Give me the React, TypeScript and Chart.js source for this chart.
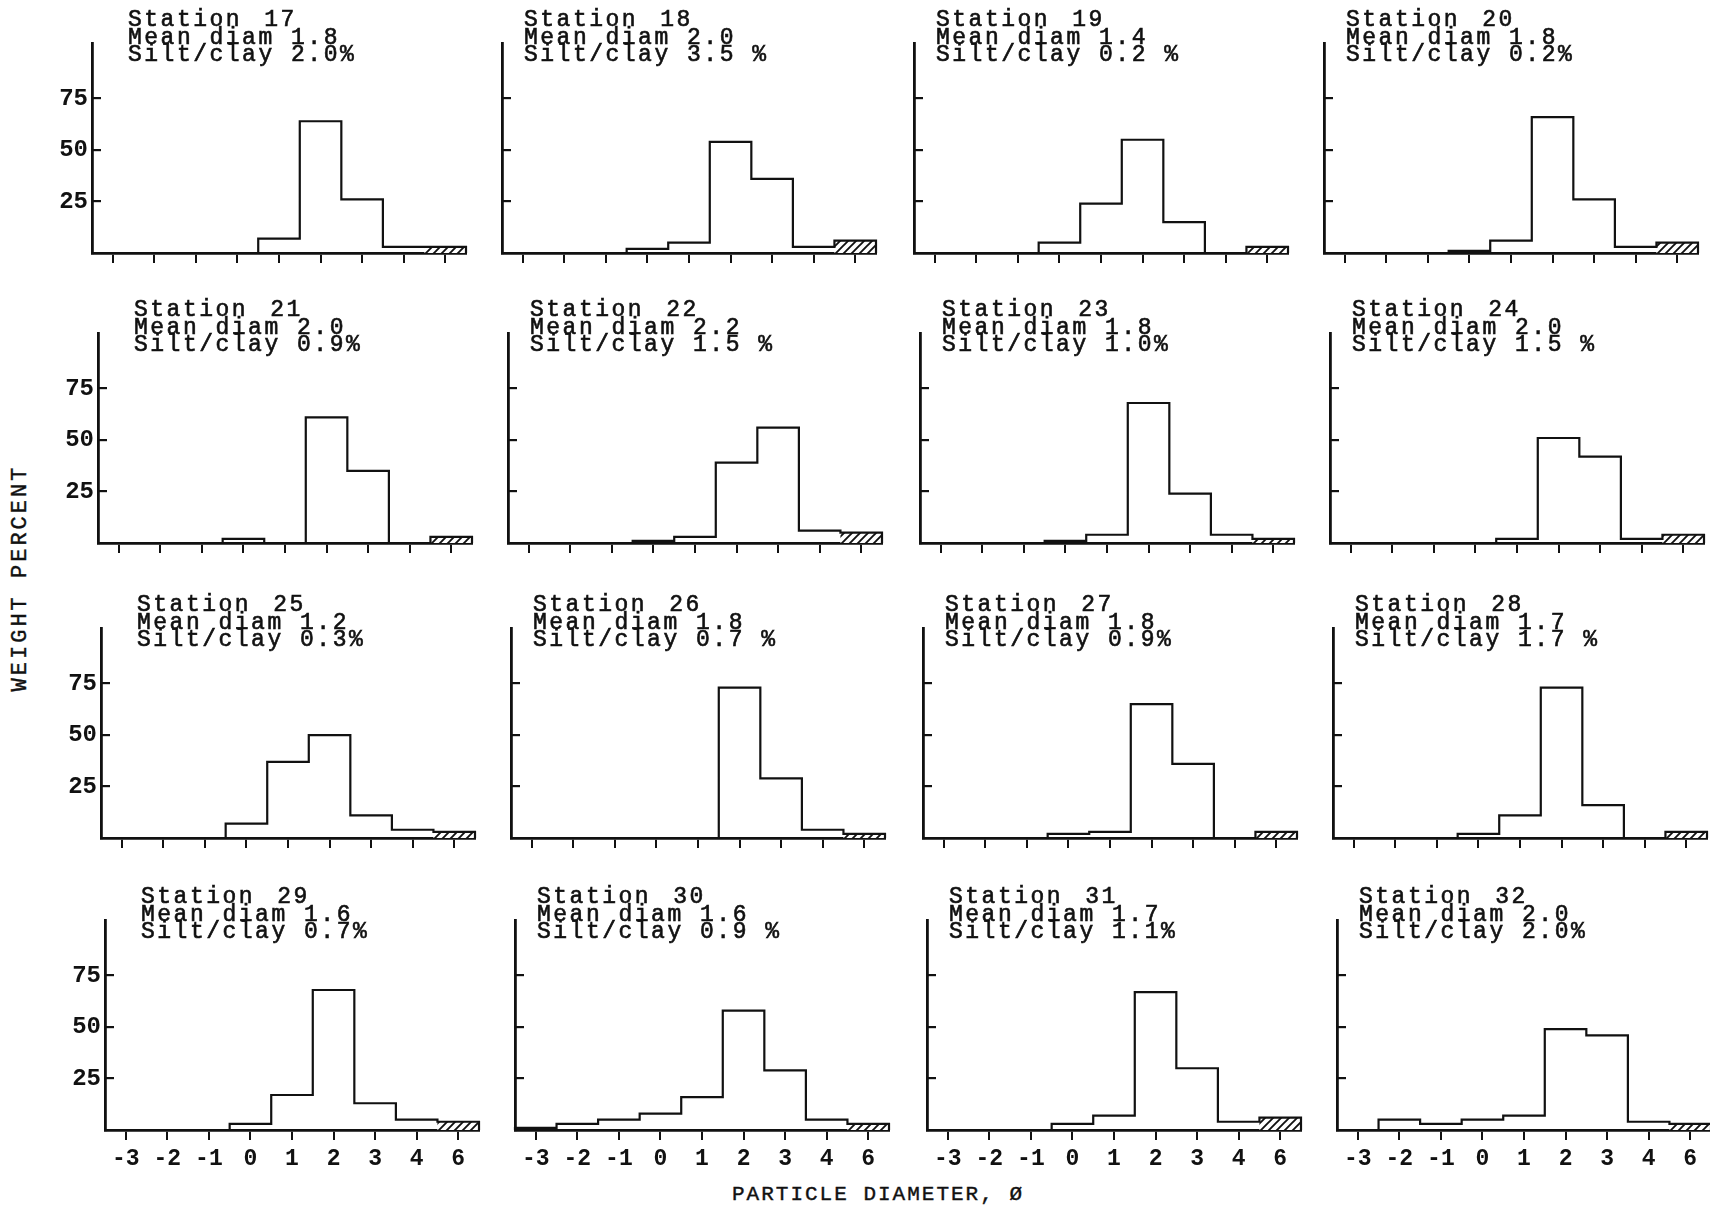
import React, { useEffect, useRef } from "react";
import { Chart, registerables } from "chart.js";

Chart.register(...registerables);

// ---- data ----
const tickLabels = ["-3", "-2", "-1", "0", "1", "2", "3", "4", "6"];
const yTickValues = [25, 50, 75];
const stations = [17, 18, 19, 20, 21, 22, 23, 24, 25, 26, 27, 28, 29, 30, 31, 32];
const meanDiam = ["1.8", "2.0", "1.4", "1.8", "2.0", "2.2", "1.8", "2.0", "1.2", "1.8", "1.8", "1.7", "1.6", "1.6", "1.7", "2.0"];
const siltClay = ["2.0%", "3.5 %", "0.2 %", "0.2%", "0.9%", "1.5 %", "1.0%", "1.5 %", "0.3%", "0.7 %", "0.9%", "1.7 %", "0.7%", "0.9 %", "1.1%", "2.0%"];

// weight percent per phi class (-3..4) and the hatched silt/clay class
const st17 = [0, 0, 0, 0, 7, 64, 26, 3, 3];
const st18 = [0, 0, 0, 2, 5, 54, 36, 3, 6];
const st19 = [0, 0, 0, 5, 24, 55, 15, 0, 3];
const st20 = [0, 0, 0, 1, 6, 66, 26, 3, 5];
const st21 = [0, 0, 0, 2, 0, 61, 35, 0, 3];
const st22 = [0, 0, 0, 1, 3, 39, 56, 6, 5];
const st23 = [0, 0, 0, 1, 4, 68, 24, 4, 2];
const st24 = [0, 0, 0, 0, 2, 51, 42, 2, 4];
const st25 = [0, 0, 0, 7, 37, 50, 11, 4, 3];
const st26 = [0, 0, 0, 0, 0, 73, 29, 4, 2];
const st27 = [0, 0, 0, 2, 3, 65, 36, 0, 3];
const st28 = [0, 0, 0, 2, 11, 73, 16, 0, 3];
const st29 = [0, 0, 0, 3, 17, 68, 13, 5, 4];
const st30 = [1, 3, 5, 8, 16, 58, 29, 5, 3];
const st31 = [0, 0, 0, 3, 7, 67, 30, 4, 6];
const st32 = [0, 5, 3, 5, 7, 49, 46, 4, 3];
const weights = [st17, st18, st19, st20, st21, st22, st23, st24, st25, st26, st27, st28, st29, st30, st31, st32];

// ---- layout ----
const COL_X = [92, 502, 914, 1324];
const ROW_SHIFT = [0, 6, 9, 13];
const BASELINE = [253, 543, 838, 1130];
const Y_AXIS_W = 50;
const PLOT_W = 374;
const PLOT_H = 210;
const PAD_T = 30;
const PAD_R = 10;
const X_AXIS_H = 50;
const INK = "#111";
const MONO = '"Liberation Mono", "DejaVu Sans Mono", monospace';

function makeHatch(ctx: CanvasRenderingContext2D) {
  const s = 8;
  const c = document.createElement("canvas");
  c.width = s;
  c.height = s;
  const g = c.getContext("2d")!;
  g.fillStyle = "#fff";
  g.fillRect(0, 0, s, s);
  g.strokeStyle = INK;
  g.lineWidth = 1.9;
  g.beginPath();
  g.moveTo(0, s);
  g.lineTo(s, 0);
  g.moveTo(-2, 2);
  g.lineTo(2, -2);
  g.moveTo(s - 2, s + 2);
  g.lineTo(s + 2, s - 2);
  g.stroke();
  return ctx.createPattern(c, "repeat");
}

// histogram outline: one point at the left edge of every class, closed at the right edge
function stepPoints(vals: number[]) {
  const n = vals.length;
  const pts = [{ x: -0.5, y: 0 }];
  vals.forEach((v, i) => pts.push({ x: i - 0.5, y: v }));
  pts.push({ x: n - 0.5, y: vals[n - 1] });
  pts.push({ x: n - 0.5, y: 0 });
  return pts;
}

function Panel({ idx }: { idx: number }) {
  const ref = useRef<HTMLCanvasElement>(null);
  const row = Math.floor(idx / 4);
  const col = idx % 4;
  const axisX = COL_X[col] + ROW_SHIFT[row];
  const base = BASELINE[row];
  const width = Y_AXIS_W + PLOT_W + PAD_R;
  const height = PAD_T + PLOT_H + X_AXIS_H;
  const left = axisX - Y_AXIS_W;
  const top = base - PLOT_H - PAD_T;

  useEffect(() => {
    const canvas = ref.current!;
    const ctx = canvas.getContext("2d")!;
    const hatch = makeHatch(ctx);
    const vals = weights[idx];
    const n = vals.length;
    const chart = new Chart(canvas, {
      type: "bar",
      data: {
        labels: tickLabels,
        datasets: [
          {
            type: "line",
            xAxisID: "xs",
            yAxisID: "y",
            data: stepPoints(vals),
            stepped: "before",
            borderColor: INK,
            borderWidth: 2.2,
            pointRadius: 0,
            fill: false,
            tension: 0,
            clip: false,
            order: 0,
          } as any,
          {
            type: "bar",
            xAxisID: "x",
            yAxisID: "y",
            data: vals,
            backgroundColor: vals.map((_, i) => (i === n - 1 ? (hatch as any) : "rgba(0,0,0,0)")),
            borderWidth: 0,
            grouped: false,
            barPercentage: 1,
            categoryPercentage: 1,
            inflateAmount: 0,
            order: 1,
          } as any,
        ],
      },
      options: {
        responsive: false,
        maintainAspectRatio: false,
        animation: false,
        devicePixelRatio: 1,
        layout: { padding: { left: 0, right: PAD_R, top: PAD_T, bottom: 0 } },
        plugins: {
          legend: { display: false },
          tooltip: { enabled: false },
          title: { display: false },
        },
        scales: {
          x: {
            type: "category",
            offset: true,
            z: 1,
            grid: {
              display: true,
              drawOnChartArea: false,
              drawTicks: true,
              tickLength: 10,
              offset: false,
              color: INK,
              lineWidth: 2,
            },
            border: { display: true, color: INK, width: 2.8 },
            ticks: {
              display: row === 3,
              color: INK,
              font: { family: MONO, size: 23, weight: "bold" },
              padding: 5,
              maxRotation: 0,
              autoSkip: false,
            },
            afterFit: (s: any) => {
              s.height = X_AXIS_H;
            },
          },
          xs: {
            type: "linear",
            display: false,
            min: -0.5,
            max: n - 0.5,
            offset: false,
          },
          y: {
            type: "linear",
            min: 0,
            max: 102,
            z: 1,
            afterBuildTicks: (s: any) => {
              s.ticks = yTickValues.map((v) => ({ value: v }));
            },
            grid: {
              display: true,
              drawOnChartArea: false,
              drawTicks: true,
              tickLength: -9,
              color: INK,
              lineWidth: 2.2,
            },
            border: { display: true, color: INK, width: 2.8 },
            ticks: {
              display: col === 0,
              color: INK,
              font: { family: MONO, size: 24, weight: "bold" },
              padding: 13,
            },
            afterFit: (s: any) => {
              s.width = Y_AXIS_W;
            },
          },
        },
      } as any,
    });
    return () => chart.destroy();
  }, [idx]);

  const textDx = col === 0 ? 36 : 22;
  return (
    <>
      <canvas
        ref={ref}
        width={width}
        height={height}
        style={{ position: "absolute", left, top, width, height, display: "block" }}
      />
      <div
        style={{
          position: "absolute",
          left: axisX + textDx,
          top: base - 241,
          font: `23px ${MONO}`,
          letterSpacing: "2.5px",
          lineHeight: "17.5px",
          whiteSpace: "pre",
          color: INK,
          WebkitTextStroke: "0.6px #111",
        }}
      >
        <div>
          Station<span style={{ marginLeft: 22 }}>{stations[idx]}</span>
        </div>
        <div>Mean diam {meanDiam[idx]}</div>
        <div>Silt/clay {siltClay[idx]}</div>
      </div>
    </>
  );
}

export default function App() {
  return (
    <div
      style={{
        position: "absolute",
        left: 0,
        top: 0,
        width: 1710,
        height: 1205,
        background: "#fff",
        overflow: "hidden",
      }}
    >
      {stations.map((_, i) => (
        <Panel key={i} idx={i} />
      ))}
      <div
        style={{
          position: "absolute",
          left: 20,
          top: 578,
          transform: "translate(-50%, -50%) rotate(-90deg)",
          font: `22px ${MONO}`,
          letterSpacing: "3px",
          whiteSpace: "nowrap",
          color: INK,
          WebkitTextStroke: "0.4px #111",
        }}
      >
        WEIGHT PERCENT
      </div>
      <div
        style={{
          position: "absolute",
          left: 878,
          top: 1194,
          transform: "translate(-50%, -50%)",
          font: `21px ${MONO}`,
          letterSpacing: "2px",
          whiteSpace: "nowrap",
          color: INK,
          WebkitTextStroke: "0.4px #111",
        }}
      >
        PARTICLE DIAMETER, Ø
      </div>
    </div>
  );
}
